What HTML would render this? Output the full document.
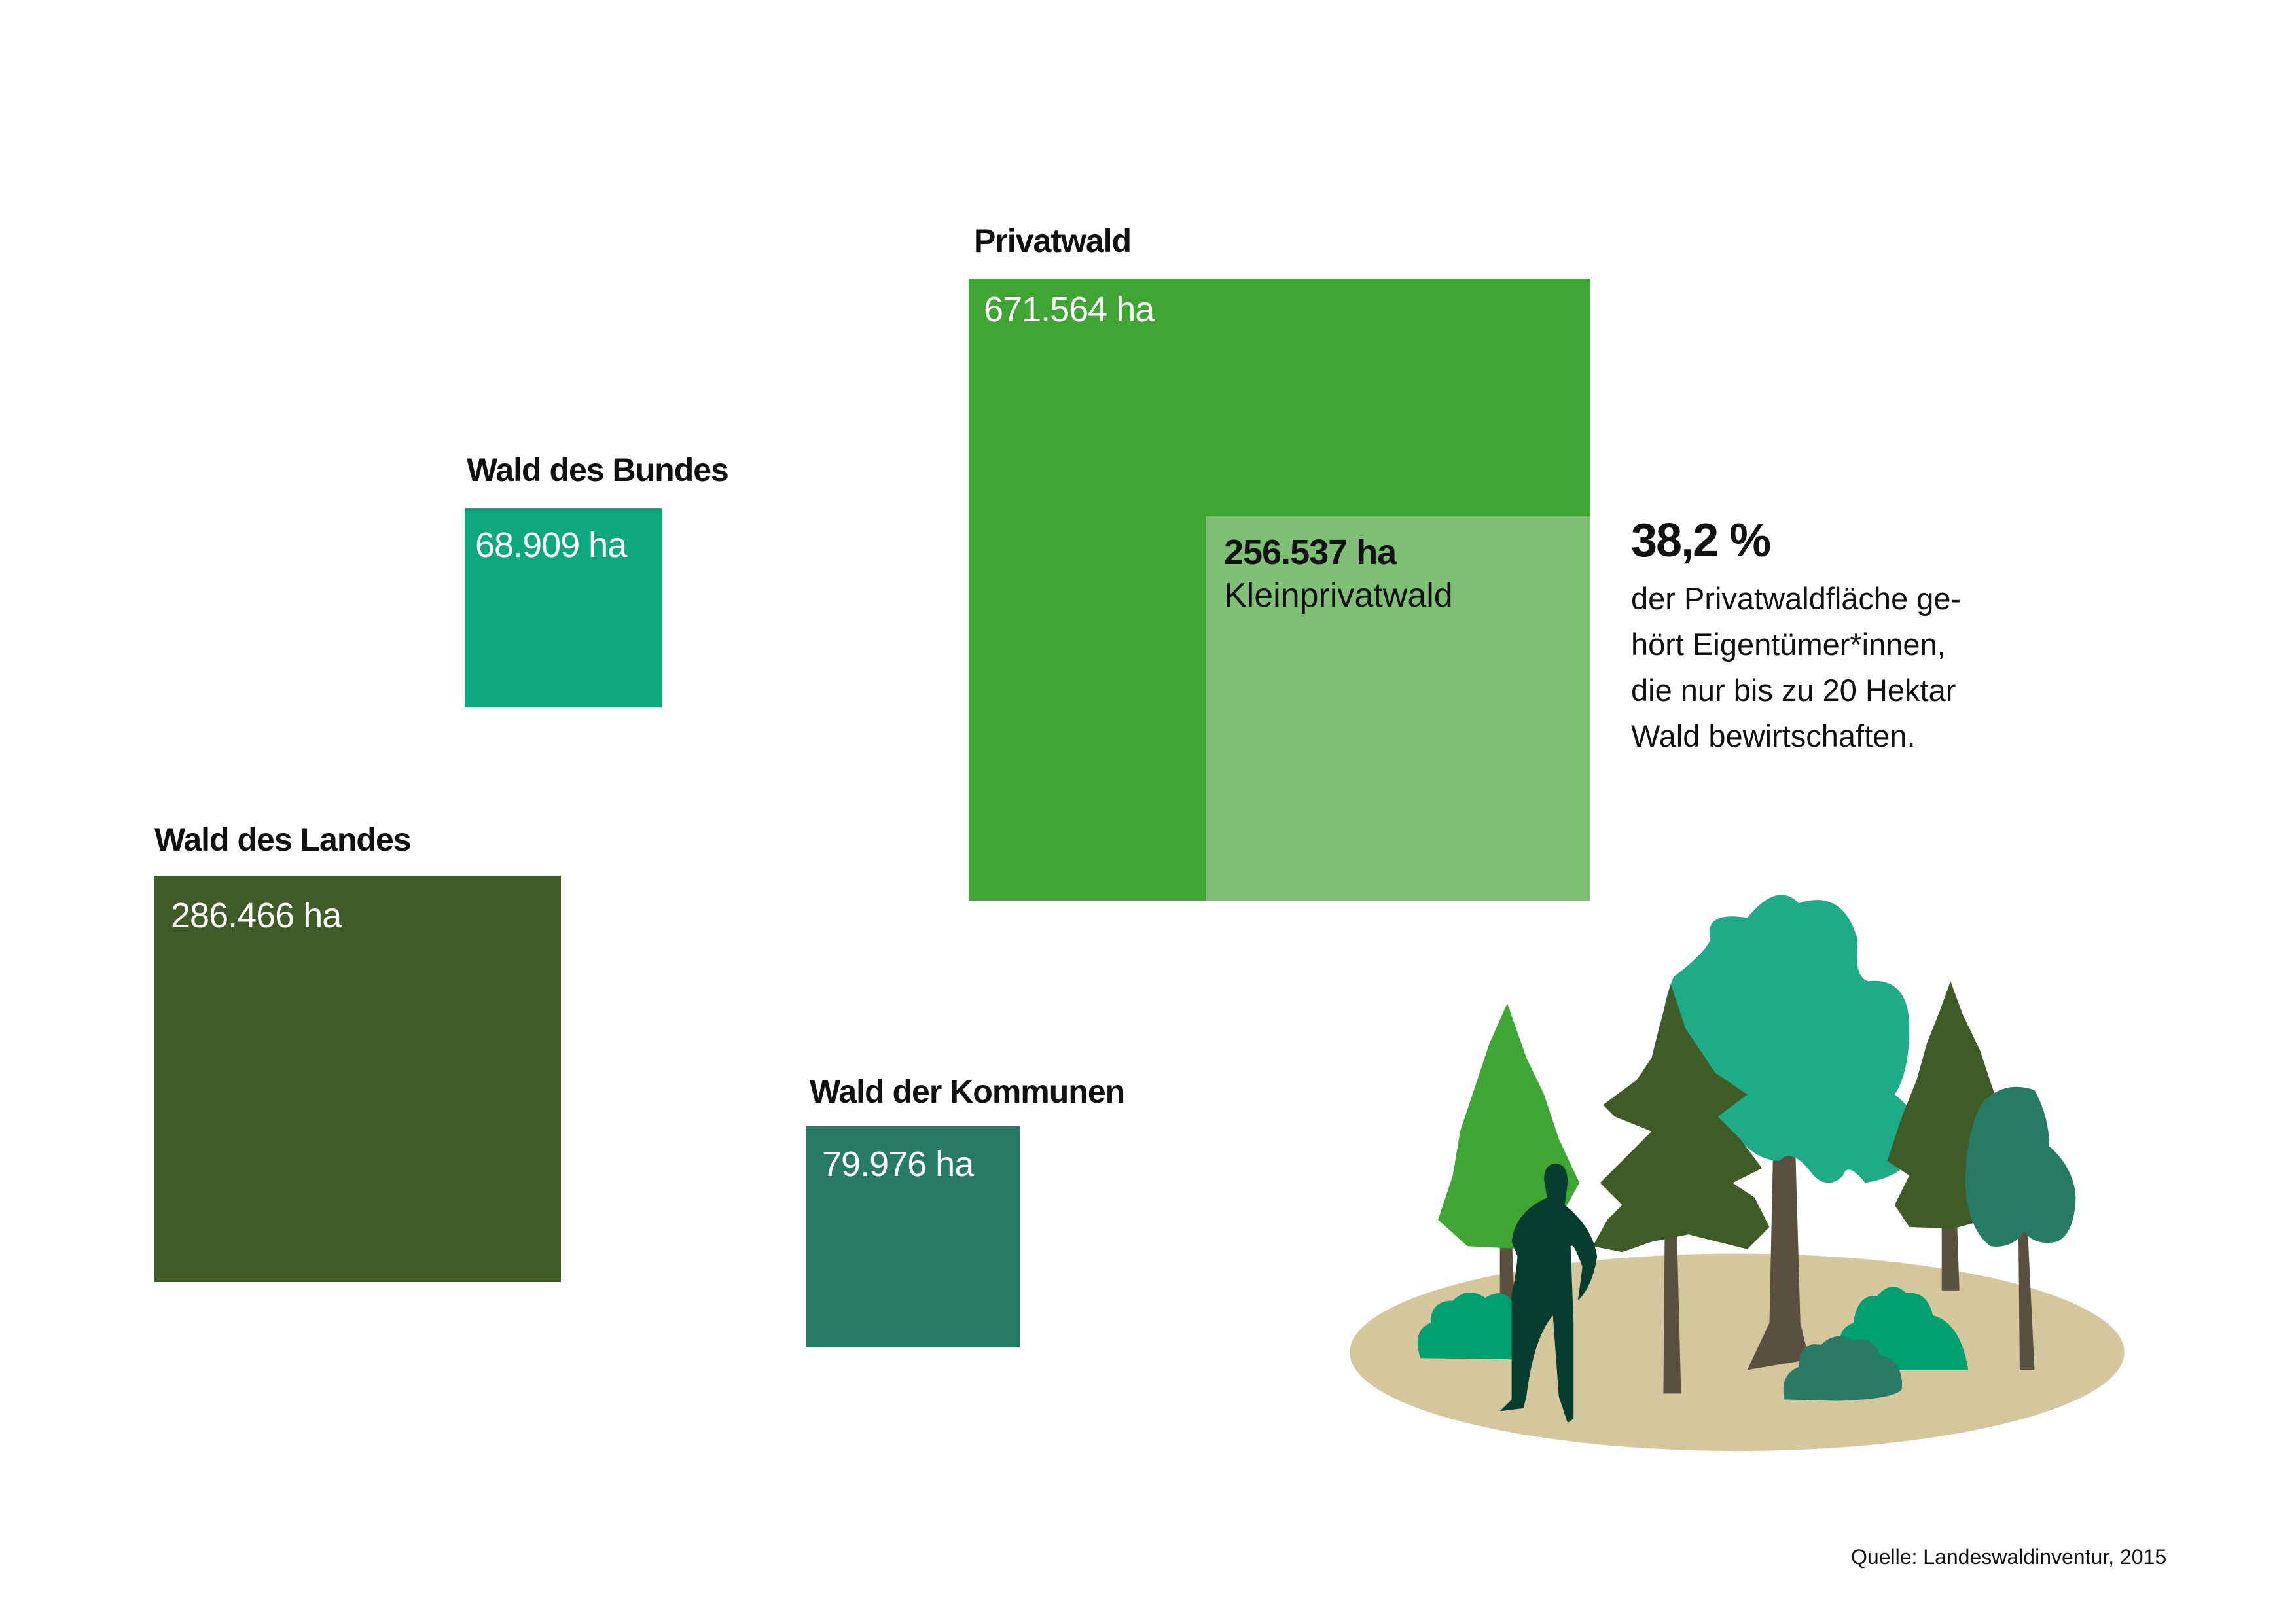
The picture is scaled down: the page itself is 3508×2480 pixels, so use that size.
<!DOCTYPE html>
<html><head><meta charset="utf-8"><style>
html,body{margin:0;padding:0;background:#fff}
body{width:3508px;height:2480px;position:relative;overflow:hidden;font-family:"Liberation Sans",sans-serif}
.r{position:absolute}
.t{position:absolute;white-space:nowrap;line-height:1}
.lb{font-weight:bold;font-size:50px;color:#111;letter-spacing:-1px}
.v{font-size:54px;color:#fff;letter-spacing:-1px}
</style></head><body>
<div class="r" style="left:1480px;top:426px;width:950px;height:950px;background:#40a535"></div>
<div class="r" style="left:1842px;top:789px;width:588px;height:587px;background:#80c076"></div>
<div class="r" style="left:710px;top:777px;width:302px;height:304px;background:#0ea77e"></div>
<div class="r" style="left:236px;top:1338px;width:621px;height:621px;background:#3f5b27"></div>
<div class="r" style="left:1232px;top:1721px;width:326px;height:338px;background:#277b65"></div>

<div class="t lb" style="left:1488px;top:343px">Privatwald</div>
<div class="t v" style="left:1503px;top:446px">671.564 ha</div>
<div class="t lb" style="left:713px;top:693px">Wald des Bundes</div>
<div class="t v" style="left:726px;top:806px">68.909 ha</div>
<div class="t lb" style="left:236px;top:1258px">Wald des Landes</div>
<div class="t v" style="left:261px;top:1372px">286.466 ha</div>
<div class="t lb" style="left:1237px;top:1643px">Wald der Kommunen</div>
<div class="t v" style="left:1256px;top:1752px">79.976 ha</div>
<div class="t" style="left:1870px;top:817px;font-size:54px;font-weight:bold;color:#111;letter-spacing:-1px">256.537 ha</div>
<div class="t" style="left:1870px;top:884px;font-size:52px;color:#111">Kleinprivatwald</div>
<div class="t" style="left:2492px;top:790px;font-size:72px;font-weight:bold;color:#111;letter-spacing:-2px">38,2 %</div>
<div class="t" style="left:2492px;top:880px;font-size:47px;color:#111;line-height:70px">der Privatwaldfläche ge-<br>hört Eigentümer*innen,<br>die nur bis zu 20 Hektar<br>Wald bewirtschaften.</div>
<div class="t" style="left:2828px;top:2363px;font-size:32px;color:#111">Quelle: Landeswaldinventur, 2015</div>

<svg class="r" style="left:-8px;top:-4px" width="3508" height="2480" viewBox="0 0 1559 1102">
<ellipse cx="1183" cy="920" rx="263" ry="67" fill="#d4c79e"/>
<polygon points="1022,840 1030,840 1032,890 1022,890" fill="#5a5040"/>
<polygon points="1134,830 1142,830 1145,948 1133,948" fill="#5a5040"/>
<polygon points="1322,820 1332,820 1334,878 1322,878" fill="#5a5040"/>
<polygon points="1374,830 1380,830 1385,932 1375,932" fill="#5a5040"/>
<path d="M1208,760 L1222,760 L1226,900 L1232,925 L1190,932 L1205,900 Z" fill="#5a5040"/>
<path d="M1027,683 L1040,720 L1052,745 L1062,775 L1076,805 L1062,830 L1040,850 L1000,848 L980,830 L990,800 L995,770 L1005,740 L1015,710 Z" fill="#3fa535"/>
<path d="M1190,625 Q1210,600 1225,615 Q1255,605 1265,640 Q1262,665 1272,668 Q1300,665 1300,700 Q1300,730 1290,745 Q1310,760 1305,780 Q1300,800 1270,805 Q1258,790 1255,800 Q1245,810 1235,800 Q1220,780 1212,790 Q1195,790 1180,770 Q1150,760 1140,730 Q1125,700 1140,665 Q1160,650 1165,640 Q1160,620 1190,625 Z" fill="#1fab87"/>
<path d="M1138,670 L1148,700 L1168,730 L1190,745 L1170,760 L1185,775 L1200,795 L1180,805 L1195,815 L1205,835 L1190,850 L1170,845 L1150,840 L1125,845 L1105,852 L1085,848 L1095,830 L1105,820 L1090,805 L1110,785 L1125,770 L1100,760 L1092,752 L1115,735 L1125,720 L1130,700 Z" fill="#3f5b27"/>
<path d="M1328,668 L1336,690 L1348,715 L1358,745 L1350,770 L1340,800 L1352,830 L1330,836 L1300,835 L1290,820 L1300,800 L1285,790 L1295,760 L1305,735 L1312,710 L1320,690 Z" fill="#3f5b27"/>
<path d="M1350,750 Q1365,735 1385,742 Q1395,760 1395,780 Q1412,795 1413,815 Q1412,840 1400,845 Q1385,848 1378,838 Q1370,850 1355,848 Q1338,835 1338,800 Q1340,765 1350,750 Z" fill="#277b65"/>
<path d="M968,924 Q962,905 975,900 Q975,885 990,885 Q1000,875 1012,883 Q1025,875 1032,888 Q1045,892 1040,910 L1040,925 Z" fill="#00a070"/>
<path d="M1255,925 Q1248,905 1262,900 Q1265,880 1278,882 Q1288,870 1298,880 Q1312,878 1316,895 Q1335,900 1340,932 L1270,932 Z" fill="#00a070"/>
<path d="M1215,952 Q1212,935 1225,930 Q1225,912 1240,915 Q1250,905 1262,912 Q1275,908 1280,922 Q1296,925 1295,945 Q1290,952 1250,953 Z" fill="#2a7a66"/>
<path d="M1060,792 Q1068,792 1068,805 L1066,820 Q1085,835 1088,855 Q1085,875 1075,885 L1078,862 Q1072,845 1070,848 L1072,900 L1072,965 L1068,968 L1062,950 L1058,895 Q1045,910 1040,950 L1038,958 L1022,960 L1030,952 L1030,880 Q1035,860 1034,840 L1036,860 L1030,845 Q1032,825 1054,815 L1052,803 Q1052,792 1060,792 Z" fill="#073d2e"/>
</svg>
</body></html>
